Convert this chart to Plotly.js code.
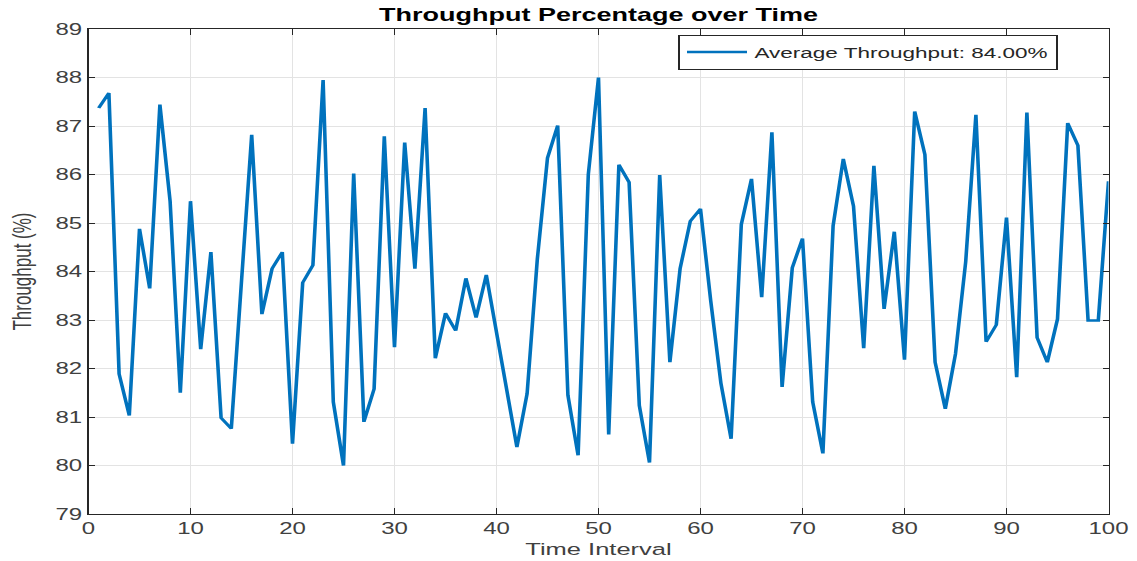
<!DOCTYPE html>
<html>
<head>
<meta charset="utf-8">
<script src="https://cdn.plot.ly/plotly-3.0.1.min.js"></script>
<style>
  html, body { margin: 0; padding: 0; background: #ffffff; overflow: hidden; }
  #wrap { width: 1137px; height: 561px; overflow: hidden; }
  #plot { width: 758px; height: 561px; transform: scaleX(1.5); transform-origin: 0 0; }
</style>
</head>
<body>
<div id="wrap"><div id="plot"></div></div>
<script>
const timeInterval = [1,2,3,4,5,6,7,8,9,10,11,12,13,14,15,16,17,18,19,20,
  21,22,23,24,25,26,27,28,29,30,31,32,33,34,35,36,37,38,39,40,
  41,42,43,44,45,46,47,48,49,50,51,52,53,54,55,56,57,58,59,60,
  61,62,63,64,65,66,67,68,69,70,71,72,73,74,75,76,77,78,79,80,
  81,82,83,84,85,86,87,88,89,90,91,92,93,94,95,96,97,98,99,100];

const throughput = [87.37,87.68,81.89,81.03,84.88,83.65,87.44,85.45,81.50,85.45,
  82.40,84.40,80.98,80.76,83.80,86.82,83.12,84.06,84.40,80.45,
  83.77,84.13,87.95,81.31,80.00,86.02,80.90,81.58,86.79,82.44,
  86.66,84.06,87.37,82.21,83.14,82.78,83.86,83.05,83.93,82.75,
  81.45,80.38,81.48,84.25,86.34,87.01,81.45,80.21,86.00,88.00,
  80.64,86.20,85.84,81.24,80.06,85.99,82.13,84.06,85.04,85.29,
  83.40,81.70,80.55,84.97,85.91,83.47,86.87,81.62,84.08,84.68,
  81.31,80.25,84.94,86.32,85.35,82.42,86.18,83.23,84.82,82.18,
  87.30,86.41,82.13,81.17,82.30,84.20,87.23,82.55,82.90,85.11,
  81.82,87.28,82.64,82.13,83.02,87.06,86.60,82.99,82.99,85.86];

const legendLabel = "Average Throughput: 84.00%";
const chartTitle = "Throughput Percentage over Time";
const xTitle = "Time Interval";
const yTitle = "Throughput (%)";
const xTickVals = [0,10,20,30,40,50,60,70,80,90,100];
const yTickVals = [79,80,81,82,83,84,85,86,87,88,89];

const axisColor = "#262626";
const gridColor = "#e3e3e3";
const fontFam = "Liberation Sans, Arial, sans-serif";

const trace = {
  x: timeInterval,
  y: throughput,
  type: "scatter",
  mode: "lines",
  name: legendLabel,
  line: { color: "#0072BD", width: 2.4 },
  showlegend: true
};

const layout = {
  width: 758,
  height: 561,
  margin: { l: 59, r: 19, t: 29, b: 47 },
  paper_bgcolor: "#ffffff",
  plot_bgcolor: "#ffffff",
  font: { family: fontFam, color: axisColor, size: 16 },
  title: {
    text: chartTitle,
    font: { family: fontFam, size: 18, color: "#000000", weight: "bold" },
    x: 0.5, xref: "paper", xanchor: "center",
    y: 0.973, yref: "container", yanchor: "middle"
  },
  xaxis: {
    range: [0, 100],
    tickvals: xTickVals,
    ticks: "inside",
    ticklen: 6,
    tickcolor: axisColor,
    showline: true,
    linecolor: axisColor,
    linewidth: 1,
    mirror: "ticks",
    showgrid: true,
    gridcolor: gridColor,
    gridwidth: 1,
    zeroline: false,
    tickfont: { family: fontFam, size: 16, color: "#404040" },
    title: { text: xTitle, font: { family: fontFam, size: 17, color: "#404040" }, standoff: 6 },
    automargin: false
  },
  yaxis: {
    range: [79, 89],
    tickvals: yTickVals,
    ticks: "inside",
    ticklen: 4,
    tickcolor: axisColor,
    showline: true,
    linecolor: axisColor,
    linewidth: 1,
    mirror: "ticks",
    showgrid: true,
    gridcolor: gridColor,
    gridwidth: 1,
    zeroline: false,
    tickfont: { family: fontFam, size: 16, color: "#404040" },
    title: { text: yTitle, font: { family: fontFam, size: 17, color: "#404040" }, standoff: 11 },
    automargin: false
  },
  legend: {
    x: 0.950, xref: "paper", xanchor: "right",
    y: 0.988, yref: "paper", yanchor: "top",
    bgcolor: "#ffffff",
    bordercolor: axisColor,
    borderwidth: 1,
    font: { family: fontFam, size: 15, color: "#262626" },
    itemwidth: 40,
    tracegroupgap: 0
  },
  showlegend: true
};

Plotly.newPlot("plot", [trace], layout, { displayModeBar: false, staticPlot: true });
</script>
</body>
</html>
